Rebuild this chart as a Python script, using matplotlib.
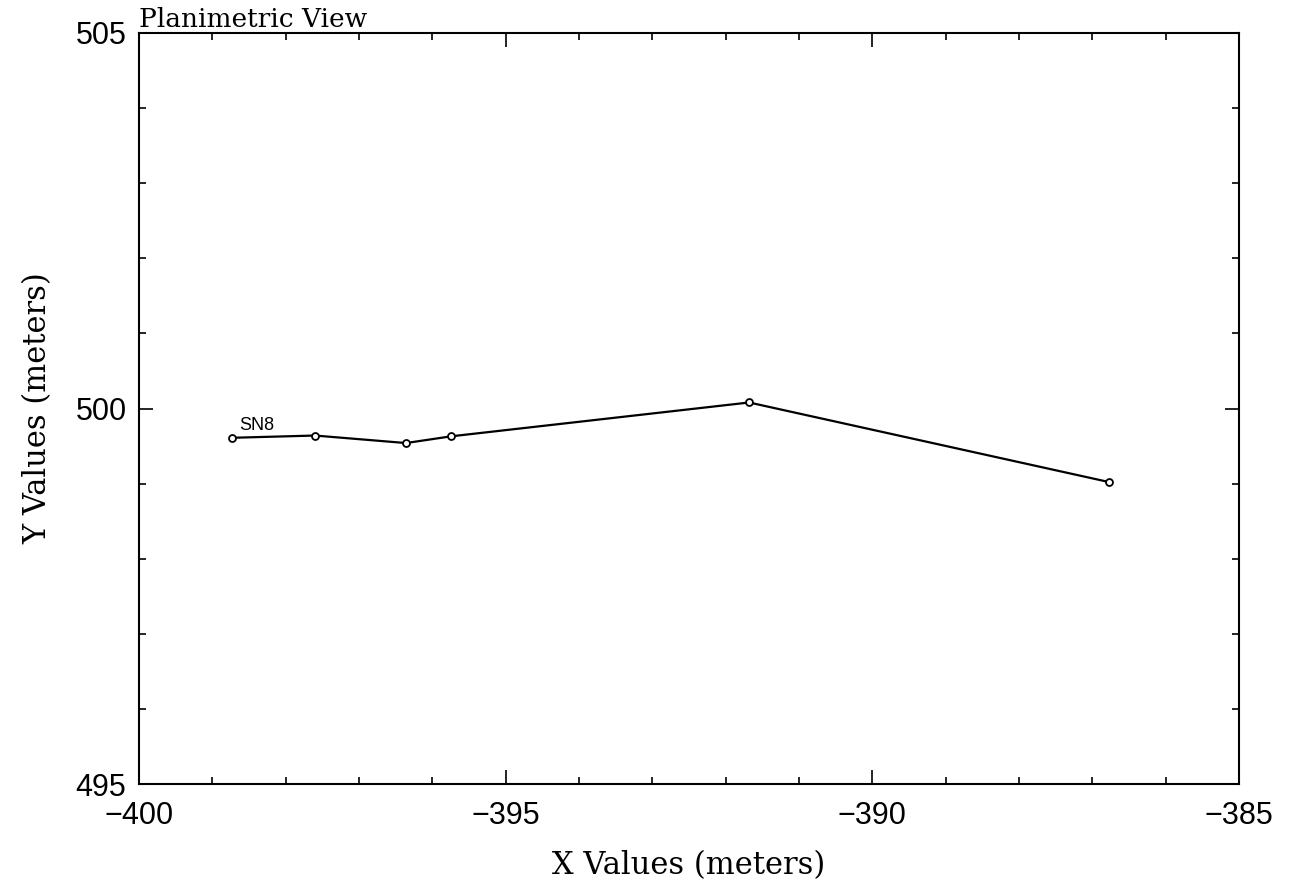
import matplotlib
matplotlib.use("Agg")
import matplotlib.pyplot as plt
from matplotlib.ticker import MultipleLocator

# survey line SN8, planimetric coordinates (meters)
x_vals = [-398.73, -397.60, -396.36, -395.74, -391.68, -386.77]
y_vals = [499.61, 499.64, 499.54, 499.63, 500.08, 499.02]
line_name = "SN8"

serif = ["DejaVu Serif"]
sans = ["Liberation Sans", "DejaVu Sans"]

fig = plt.figure(figsize=(12.94, 8.93), dpi=100)
ax = fig.add_axes([139 / 1294, 1 - 784 / 893, 1100 / 1294, 751 / 893])

ax.plot(x_vals, y_vals, color="black", linewidth=1.6, marker="o",
        markersize=5, markerfacecolor="white", markeredgecolor="black",
        markeredgewidth=1.3)
ax.text(x_vals[0] + 0.1, y_vals[0] + 0.05, line_name, fontsize=13,
        family=sans, va="bottom", ha="left")

ax.set_xlim(-400, -385)
ax.set_ylim(495, 505)
ax.xaxis.set_major_locator(MultipleLocator(5))
ax.xaxis.set_minor_locator(MultipleLocator(1))
ax.yaxis.set_major_locator(MultipleLocator(5))
ax.yaxis.set_minor_locator(MultipleLocator(1))
ax.tick_params(which="both", direction="in", top=True, right=True, width=1.2)
ax.tick_params(which="major", length=10, labelsize=22)
ax.tick_params(which="minor", length=5)
ax.tick_params(axis="x", which="major", pad=12)
ax.tick_params(axis="y", which="major", pad=9)
for lbl in ax.get_xticklabels() + ax.get_yticklabels():
    lbl.set_family(sans)
ax.xaxis.set_major_formatter(plt.FuncFormatter(lambda v, p: f"\u2212{abs(v):.0f}"))
for s in ax.spines.values():
    s.set_linewidth(1.5)

ax.set_xlabel("X Values (meters)", fontsize=22, family=serif, labelpad=14)
ax.set_ylabel("Y Values (meters)", fontsize=22, family=serif, labelpad=16)
ax.set_title("Planimetric View", fontsize=19, family=serif, loc="left", pad=4)

fig.savefig("out.png", dpi=100)
